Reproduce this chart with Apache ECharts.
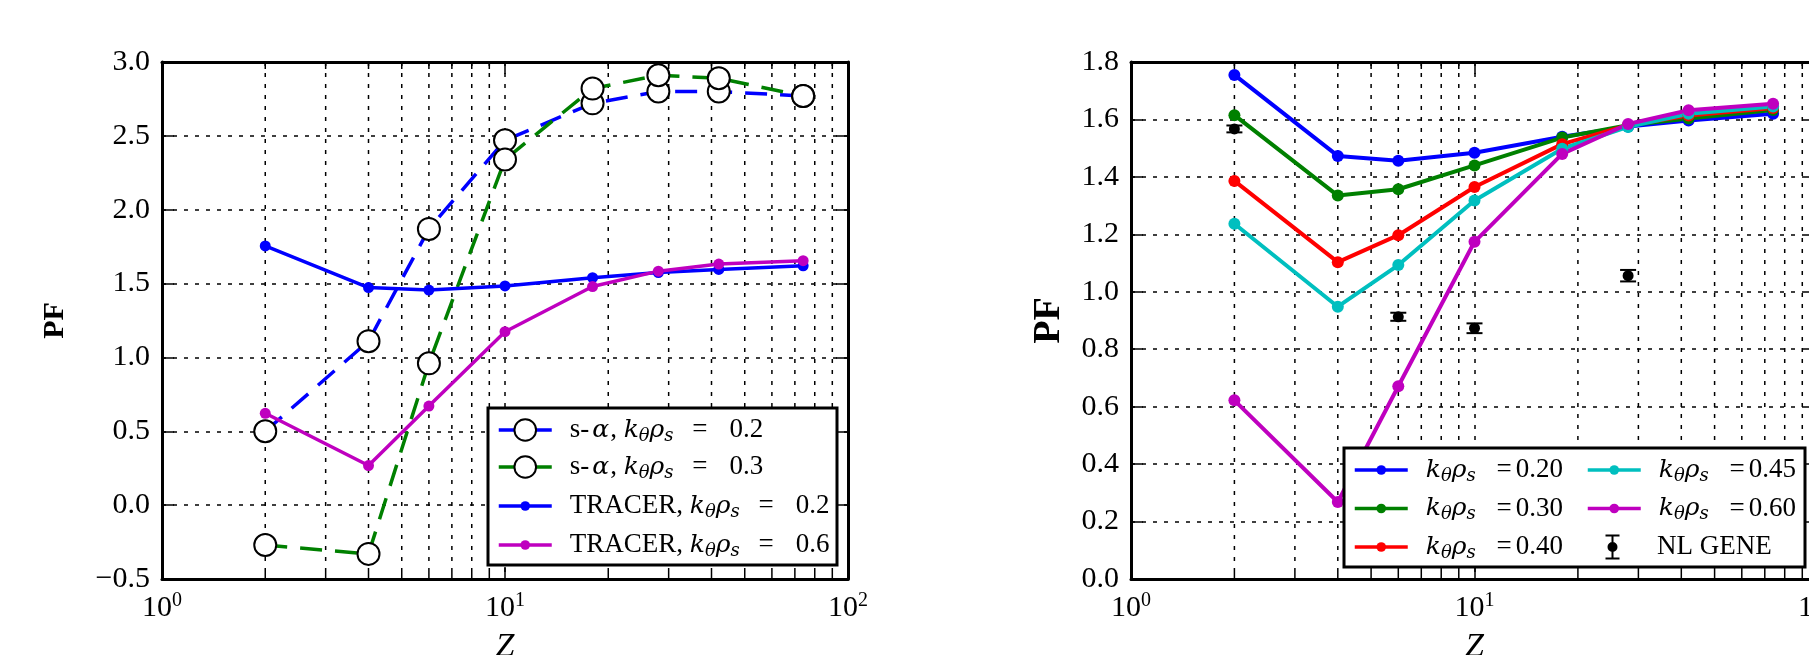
<!DOCTYPE html>
<html><head><meta charset="utf-8">
<script src="https://cdn.jsdelivr.net/npm/echarts@6/dist/echarts.min.js"></script>
<style>html,body{margin:0;padding:0;background:#fff}#c{width:1809px;height:655px}</style>
</head><body><div id="c"></div>
<script>
// ---------- data ----------
const Z = [2, 4, 6, 10, 18, 28, 42, 74];
const sa02 = [0.50, 1.11, 1.87, 2.47, 2.72, 2.80, 2.80, 2.77];
const sa03 = [-0.27, -0.33, 0.96, 2.34, 2.82, 2.91, 2.89, 2.77];
const tr020 = [1.755, 1.473, 1.456, 1.484, 1.540, 1.575, 1.596, 1.620];
const tr030 = [1.615, 1.335, 1.357, 1.440, 1.537, 1.580, 1.603, 1.633];
const tr040 = [1.386, 1.103, 1.197, 1.365, 1.514, 1.580, 1.614, 1.640];
const tr045 = [1.237, 0.948, 1.093, 1.318, 1.498, 1.574, 1.620, 1.645];
const tr060 = [0.622, 0.268, 0.671, 1.174, 1.480, 1.584, 1.632, 1.655];
const geneZ = [2, 6, 10, 28];
const geneVal = [1.567, 0.913, 0.873, 1.056];
const geneErr = [0.012, 0.014, 0.017, 0.020];
const minorZ = [2, 3, 4, 5, 6, 7, 8, 9, 20, 30, 40, 50, 60, 70, 80, 90];
const xTickValues = [1, 10, 100];
const xTickExps = ['0', '1', '2'];
const yTicksLeft = ['\u22120.5', '0.0', '0.5', '1.0', '1.5', '2.0', '2.5', '3.0'];
const yTicksRight = ['0.0', '0.2', '0.4', '0.6', '0.8', '1.0', '1.2', '1.4', '1.6', '1.8'];
const leftNames = ['s-\u03b1, k\u03b8\u03c1s = 0.2', 's-\u03b1, k\u03b8\u03c1s = 0.3', 'TRACER, k\u03b8\u03c1s = 0.2', 'TRACER, k\u03b8\u03c1s = 0.6'];
const rightNames = ['k\u03b8\u03c1s =0.20', 'k\u03b8\u03c1s =0.30', 'k\u03b8\u03c1s =0.40', 'k\u03b8\u03c1s =0.45', 'k\u03b8\u03c1s =0.60', 'NL GENE'];

// ---------- style helpers ----------
const FF = "'Liberation Serif', 'DejaVu Serif', serif";
const FM = "'DejaVu Serif', 'Liberation Serif', serif";
const C = { b: '#0000ff', g: '#008000', r: '#ff0000', c: '#00bfbf', m: '#bf00bf', k: '#000000' };
const pairs = (ys) => Z.map((z, i) => [z, ys[i]]);
const TICK_FS = 30;

function xAxes(gridIndex) {
  return [{
    type: 'log', logBase: 10, min: 1, max: 100, gridIndex, position: 'bottom',
    axisLine: { show: true, onZero: false, lineStyle: { color: '#000', width: 3 } },
    axisTick: { show: true, inside: true, length: 12, lineStyle: { color: '#000', width: 1.5 } },
    axisLabel: {
      show: true, margin: 12, color: '#000', fontFamily: FF, fontSize: TICK_FS, lineHeight: 34,
      formatter: (v) => { const i = xTickValues.indexOf(Math.round(v)); return '{n|10}{s|' + (i >= 0 ? xTickExps[i] : '') + '}'; },
      rich: {
        n: { fontFamily: FF, fontSize: TICK_FS, lineHeight: 34, color: '#000' },
        s: { fontFamily: FF, fontSize: 20, lineHeight: 18, verticalAlign: 'top', color: '#000' }
      }
    },
    splitLine: { show: true, lineStyle: { color: '#000', width: 1.5, type: [4, 7] } },
    name: 'Z', nameLocation: 'middle', nameGap: 48,
    nameTextStyle: { fontFamily: FF, fontStyle: 'italic', fontSize: 34, color: '#000' }
  }, {
    type: 'log', logBase: 10, min: 1, max: 100, gridIndex, position: 'top',
    axisLine: { show: true, onZero: false, lineStyle: { color: '#000', width: 3 } },
    axisTick: { show: true, inside: true, length: 12, lineStyle: { color: '#000', width: 1.5 } },
    axisLabel: { show: false }, splitLine: { show: false }
  }];
}
function yAxes(gridIndex, min, max, interval, labels, nameGap, nameSize) {
  return [{
    type: 'value', min, max, interval, gridIndex, position: 'left',
    axisLine: { show: true, onZero: false, lineStyle: { color: '#000', width: 3 } },
    axisTick: { show: true, inside: true, length: 12, lineStyle: { color: '#000', width: 1.5 } },
    axisLabel: {
      show: true, margin: 12, color: '#000', fontFamily: FF, fontSize: TICK_FS,
      formatter: (v, i) => '{n|' + labels[i] + '}',
      rich: { n: { fontFamily: FF, fontSize: TICK_FS, color: '#000' } }
    },
    splitLine: { show: true, lineStyle: { color: '#000', width: 1.5, type: [4, 7] } },
    name: 'PF', nameLocation: 'middle', nameGap, nameRotate: 90,
    nameTextStyle: { fontFamily: FF, fontWeight: 'bold', fontSize: nameSize, color: '#000' }
  }, {
    type: 'value', min, max, interval, gridIndex, position: 'right',
    axisLine: { show: true, onZero: false, lineStyle: { color: '#000', width: 3 } },
    axisTick: { show: true, inside: true, length: 12, lineStyle: { color: '#000', width: 1.5 } },
    axisLabel: { show: false }, splitLine: { show: false }
  }];
}
function minorSeries(xi, yi, ymin) {
  return {
    type: 'custom', xAxisIndex: xi, yAxisIndex: yi, silent: true, z: 1, clip: false,
    data: minorZ.map(v => [v, ymin]),
    renderItem: (params, api) => {
      const x = api.coord([api.value(0), api.value(1)])[0];
      const cs = params.coordSys;
      const yb = cs.y + cs.height, yt = cs.y;
      return { type: 'group', children: [
        { type: 'line', shape: { x1: x, y1: yt, x2: x, y2: yb }, style: { stroke: '#000', lineWidth: 1.5, lineDash: [4, 7] } },
        { type: 'line', shape: { x1: x, y1: yb, x2: x, y2: yb - 7 }, style: { stroke: '#000', lineWidth: 1.5 } },
        { type: 'line', shape: { x1: x, y1: yt, x2: x, y2: yt + 7 }, style: { stroke: '#000', lineWidth: 1.5 } }
      ] };
    }
  };
}
function solidLine(name, ys, color, xi, yi, size, width) {
  return {
    type: 'line', name, data: pairs(ys), xAxisIndex: xi, yAxisIndex: yi, z: 3,
    symbol: 'circle', symbolSize: size, showSymbol: true, color,
    lineStyle: { color, width }, itemStyle: { color }, emphasis: { disabled: true }
  };
}
function dashLine(name, ys, color) {
  return {
    type: 'line', name, data: pairs(ys), xAxisIndex: 0, yAxisIndex: 0, z: 3,
    symbol: 'circle', symbolSize: 22, showSymbol: true, color,
    lineStyle: { color, width: 3.5, type: [22, 13] },
    itemStyle: { color: '#fff', borderColor: '#000', borderWidth: 2 }, emphasis: { disabled: true }
  };
}
const richLegend = (fs, eqPad) => ({
  n: { fontFamily: FF, fontSize: fs, lineHeight: 30, color: '#000' },
  eq: { fontFamily: FF, fontSize: fs, lineHeight: 30, color: '#000', padding: eqPad },
  al: { fontFamily: FM, fontStyle: 'italic', fontSize: fs - 2, lineHeight: 30, color: '#000', padding: [0, 1, 0, 3] },
  i: { fontFamily: FM, fontStyle: 'italic', fontSize: fs - 2, lineHeight: 30, color: '#000' },
  sub: { fontFamily: FM, fontStyle: 'italic', fontSize: Math.round(fs * 0.66), lineHeight: 14, verticalAlign: 'bottom', color: '#000' }
});
const toRich = (name) => ('{n|' + name
  .replace('\u03b1', '}{al|\u03b1}{n|')
  .replace('k\u03b8\u03c1s', '}{i|k}{sub|\u03b8}{i|\u03c1}{sub|s}{n|')
  .replace(/ ?= ?/, ' }{eq|=}{n|') + '}').replace(/\{n\|\}/g, '');
function legend(data, left, top, itemHeight, itemGap, fs, eqPad) {
  return {
    data, left, top, orient: 'vertical', itemWidth: 53, itemHeight, itemGap, padding: 0,
    selectedMode: false, z: 5,
    lineStyle: { width: 3.5 },
    formatter: toRich,
    textStyle: { fontFamily: FF, fontSize: fs, lineHeight: 30, color: '#000', padding: [0, 0, 0, 13], rich: richLegend(fs, eqPad) }
  };
}
const geneIcon = 'path://M0,0H14V2H0Z M6,2H8V23H6Z M0,23H14V25H0Z M2,12.5A5,5 0 1,1 12,12.5A5,5 0 1,1 2,12.5Z';
const padL = [0, 22, 0, 12];
const padR = [0, 4, 0, 14];

const option = {
  animation: false,
  backgroundColor: '#fff',
  grid: [
    { left: 162, top: 62, width: 686, height: 517, outerBoundsMode: 'none', containLabel: false },
    { left: 1131, top: 62, width: 687, height: 517, outerBoundsMode: 'none', containLabel: false }
  ],
  xAxis: [...xAxes(0), ...xAxes(1)],
  yAxis: [...yAxes(0, -0.5, 3.0, 0.5, yTicksLeft, 92, 30), ...yAxes(1, 0, 1.8, 0.2, yTicksRight, 63, 38)],
  legend: [
    legend([leftNames[0], leftNames[1]], 497, 415, 27, 7, 27, padL),
    legend([leftNames[2], leftNames[3]], 497, 491, 12, 9, 27, padL),
    legend([rightNames[0], rightNames[1], rightNames[2]], 1353, 455, 12, 8.5, 27, padR),
    legend([rightNames[3], rightNames[4]], 1586, 455, 12, 8.5, 27, padR),
    legend([{ name: rightNames[5], icon: geneIcon }], 1605.5, 532, 25, 8, 27, padR)
  ],
  graphic: [
    { type: 'rect', shape: { x: 488, y: 408, width: 349, height: 157 }, style: { fill: '#fff', stroke: '#000', lineWidth: 3 }, z: 4 },
    { type: 'rect', shape: { x: 1344, y: 448, width: 461, height: 119 }, style: { fill: '#fff', stroke: '#000', lineWidth: 3 }, z: 4 }
  ],
  series: [
    minorSeries(0, 0, -0.5),
    minorSeries(2, 2, 0),
    dashLine(leftNames[0], sa02, C.b),
    dashLine(leftNames[1], sa03, C.g),
    solidLine(leftNames[2], tr020, C.b, 0, 0, 11, 3.5),
    solidLine(leftNames[3], tr060, C.m, 0, 0, 11, 3.5),
    solidLine(rightNames[0], tr020, C.b, 2, 2, 12, 4),
    solidLine(rightNames[1], tr030, C.g, 2, 2, 12, 4),
    solidLine(rightNames[2], tr040, C.r, 2, 2, 12, 4),
    solidLine(rightNames[3], tr045, C.c, 2, 2, 12, 4),
    solidLine(rightNames[4], tr060, C.m, 2, 2, 12, 4),
    {
      type: 'custom', name: rightNames[5], xAxisIndex: 2, yAxisIndex: 2, z: 3, silent: true,
      itemStyle: { color: '#000' }, encode: { x: 0, y: 1 },
      data: geneZ.map((z, i) => [z, geneVal[i], geneErr[i]]),
      renderItem: (params, api) => {
        const xv = api.value(0), yv = api.value(1), e = api.value(2);
        const c = api.coord([xv, yv]);
        const top = api.coord([xv, yv + e])[1];
        const bot = api.coord([xv, yv - e])[1];
        const st = { stroke: '#000', lineWidth: 2 };
        return { type: 'group', children: [
          { type: 'line', shape: { x1: c[0], y1: top, x2: c[0], y2: bot }, style: st },
          { type: 'line', shape: { x1: c[0] - 8, y1: top, x2: c[0] + 8, y2: top }, style: st },
          { type: 'line', shape: { x1: c[0] - 8, y1: bot, x2: c[0] + 8, y2: bot }, style: st },
          { type: 'circle', shape: { cx: c[0], cy: c[1], r: 5.5 }, style: { fill: '#000' } }
        ] };
      }
    }
  ]
};
const chart = echarts.init(document.getElementById('c'));
chart.setOption(option);
</script>
</body></html>
